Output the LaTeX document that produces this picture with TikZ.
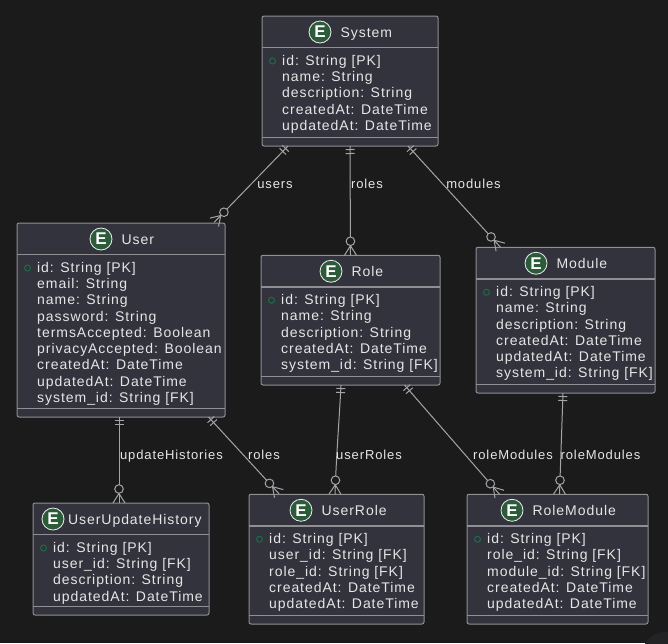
\documentclass[tikz,border=0pt]{standalone}
\usepackage{fontspec}
\setmainfont[LetterSpace=6.8]{Liberation Sans}
\usetikzlibrary{positioning,calc,decorations.markings}
\definecolor{canvasbg}{HTML}{1B1B1C}
\definecolor{cornerdisc}{HTML}{232325}
\definecolor{boxfill}{HTML}{32333D}
\definecolor{boxline}{HTML}{8F8F94}
\definecolor{inktext}{HTML}{E6E6E6}
\definecolor{iconfill}{HTML}{2C5B3A}
\definecolor{pkgreen}{HTML}{1F6B45}

\tikzset{
    entitybox/.style={draw=boxline,fill=boxfill,line width=1pt,rounded corners=2pt,inner sep=0pt,outer sep=0pt,anchor=north west},
    sepline/.style={draw=boxline,line width=#1},
    eicon/.style={circle,draw=inktext!70,fill=iconfill,line width=0.8pt,minimum size=22pt,inner sep=0pt,text=white,font=\fontsize{17}{17}\bfseries\selectfont},
    entitytitle/.style={inner sep=0pt,text height=10pt,text depth=0pt,text=inktext,font=\fontsize{14}{16}\selectfont},
    attrlist/.style={inner sep=0pt,anchor=north west,align=left,text=inktext,font=\fontsize{14}{16.25}\selectfont},
    pkdot/.style={circle,draw=pkgreen,line width=1pt,minimum size=6pt,inner sep=0pt},
    edgelabel/.style={inner sep=0pt,text height=9pt,text depth=0pt,text=inktext,font=\fontsize{13}{15}\selectfont},
    relation/.style={draw=boxline!80!white,line width=1pt,postaction={decorate},decoration={markings,
        mark=at position 3.5pt with {\draw[boxline!80!white,line width=1pt] (0,-4.5pt) -- (0,4.5pt);},
        mark=at position 7.5pt with {\draw[boxline!80!white,line width=1pt] (0,-4.5pt) -- (0,4.5pt);},
        mark=at position 1 with {
            \draw[boxline!80!white,line width=1pt] (-9.5pt,0) -- (0,6pt) (-9.5pt,0) -- (0,-6pt);
            \draw[boxline!80!white,line width=1pt,fill=canvasbg] (-14pt,0) circle (4.3pt);}}},
}

% [title gap] id, left, top, width, height, icon x, title, attributes
\newcommand{\entity}[9][9pt]{
    \node[entitybox,minimum width=#5pt,minimum height=#6pt] (#2) at (#3,#4) {};
    \draw[sepline=1.6pt] ([yshift=-31.5pt]#2.north west) -- ([yshift=-31.5pt]#2.north east);
    \draw[sepline=1pt] ([yshift=9pt]#2.south west) -- ([yshift=9pt]#2.south east);
    \node[eicon] (#2icon) at (#7,{#4+16}) {E};
    \node[entitytitle,right=#1 of #2icon] (#2title) {#8};
    \node[attrlist] (#2attrs) at ([xshift=20pt,yshift=-39pt]#2.north west) {#9};
    \node[pkdot] (#2pk) at ([xshift=10.5pt,yshift=-45pt]#2.north west) {};
}

\begin{document}
\begin{tikzpicture}[x=1pt,y=-1pt]
    \useasboundingbox[fill=canvasbg] (0,0) rectangle (668,643);
    \begin{scope}
        \clip (0,0) rectangle (668,643);
        \fill[cornerdisc] (665,655) circle (23);
    \end{scope}

    \entity{system}{262}{16}{176}{130}{320}{System}{id: String [PK]\\name: String\\description: String\\createdAt: DateTime\\updatedAt: DateTime}
    \entity{user}{17}{223}{208}{194}{101}{User}{id: String [PK]\\email: String\\name: String\\password: String\\termsAccepted: Boolean\\privacyAccepted: Boolean\\createdAt: DateTime\\updatedAt: DateTime\\system\_id: String [FK]}
    \entity{role}{261}{255.25}{179}{129.75}{331}{Role}{id: String [PK]\\name: String\\description: String\\createdAt: DateTime\\system\_id: String [FK]}
    \entity{module}{476}{247.25}{179}{145.75}{536}{Module}{id: String [PK]\\name: String\\description: String\\createdAt: DateTime\\updatedAt: DateTime\\system\_id: String [FK]}
    \entity[3.5pt]{history}{33}{503}{176}{112}{53}{UserUpdateHistory}{id: String [PK]\\user\_id: String [FK]\\description: String\\updatedAt: DateTime}
    \entity{userrole}{249}{494.25}{175}{129.75}{301}{UserRole}{id: String [PK]\\user\_id: String [FK]\\role\_id: String [FK]\\createdAt: DateTime\\updatedAt: DateTime}
    \entity{rolemodule}{467}{494.25}{181}{129.75}{512}{RoleModule}{id: String [PK]\\role\_id: String [FK]\\module\_id: String [FK]\\createdAt: DateTime\\updatedAt: DateTime}

    \draw[relation] ([xshift=-62pt]system.south) -- ([xshift=93pt,yshift=0.5pt]user.north);
    \draw[relation] (system.south) -- (role.north);
    \draw[relation] ([xshift=58pt]system.south) -- ([xshift=-65pt]module.north);
    \draw[relation] ([xshift=-2pt]user.south) -- ([xshift=-2pt]user.south |- history.north);
    \draw[relation] ([xshift=87.5pt]user.south) -- ([xshift=-57.5pt,yshift=0.5pt]userrole.north);
    \draw[relation] ([xshift=-9.5pt]role.south) to[out=-93,in=88] ([xshift=-1.5pt]userrole.north);
    \draw[relation] ([xshift=54pt]role.south) -- ([xshift=-58pt]rolemodule.north);
    \draw[relation] ([xshift=-2.5pt]module.south) -- ([xshift=2pt]rolemodule.north);

    \node[edgelabel] (usersl) at (275,184) {users};
    \node[edgelabel] (rolesl) at (367,184) {roles};
    \node[edgelabel] (modulesl) at (473.5,184) {modules};
    \node[edgelabel] (historiesl) at (171.5,455) {updateHistories};
    \node[edgelabel] (urolesl) at (264,455) {roles};
    \node[edgelabel] (userrolesl) at (369,455) {userRoles};
    \node[edgelabel] (rolemodulesl) at (513,455) {roleModules};
    \node[edgelabel] (modulerolesl) at (600.5,455) {roleModules};
\end{tikzpicture}
\end{document}
